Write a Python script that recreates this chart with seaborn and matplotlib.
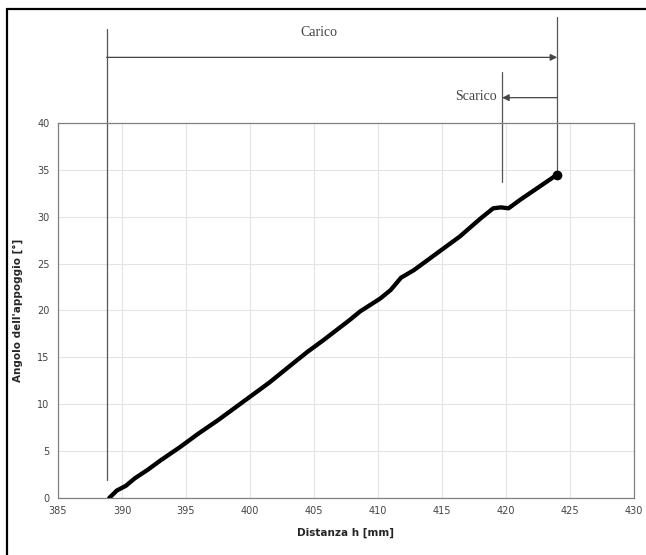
import matplotlib.pyplot as plt
import matplotlib.lines as mlines
import seaborn as sns
import pandas as pd

# Distanza h [mm] vs Angolo dell'appoggio [deg]
distanza = [389.0, 389.6, 390.3, 391.0, 392.0, 393.0, 394.5, 396.0, 397.5, 400.0,
            401.5, 403.4, 404.5, 405.7, 407.8, 408.6, 410.2, 411.0, 411.8, 412.8,
            414.5, 416.4, 418.0, 419.0, 419.6, 420.2, 421.1, 422.5, 424.0]
angolo = [0.0, 0.8, 1.3, 2.1, 3.0, 4.0, 5.4, 6.9, 8.3, 10.8,
          12.3, 14.4, 15.6, 16.8, 19.0, 19.9, 21.3, 22.2, 23.5, 24.3,
          26.0, 27.9, 29.8, 30.9, 31.0, 30.9, 31.8, 33.1, 34.5]

x_ticks = [385, 390, 395, 400, 405, 410, 415, 420, 425, 430]
y_ticks = [0, 5, 10, 15, 20, 25, 30, 35, 40]

# limiti delle fasi
inizio_carico = 388.8
fine_carico = 424.0
inizio_scarico = 419.7

df = pd.DataFrame({"Distanza": distanza, "Angolo": angolo})

sns.set_style("whitegrid", {"grid.color": "#e4e4e4", "axes.edgecolor": "#808080"})

fig = plt.figure(figsize=(6.46, 5.55), dpi=100)
ax = fig.add_axes([0.0898, 0.1027, 0.8916, 0.6757])

# linee verticali e frecce Carico / Scarico
lc = "#555555"
ax.plot([inizio_carico, inizio_carico], [1.9, 50.0], color=lc, lw=0.9, clip_on=False)
ax.plot([fine_carico, fine_carico], [34.1, 51.3], color=lc, lw=0.9, clip_on=False)
ax.plot([inizio_scarico, inizio_scarico], [33.7, 45.4], color=lc, lw=0.9, clip_on=False)

sns.lineplot(x="Distanza", y="Angolo", data=df, ax=ax, color="black",
             linewidth=3.1, solid_capstyle="round", solid_joinstyle="round", zorder=5)
ax.plot(distanza[-1], angolo[-1], "o", color="black", markeredgecolor="black",
        markersize=6, zorder=6)

ax.set_xlim(385, 430)
ax.set_ylim(0, 40)
ax.set_xticks(x_ticks)
ax.set_yticks(y_ticks)
ax.tick_params(labelsize=7, colors="#555555", length=0, pad=6)
for lab in ax.get_xticklabels() + ax.get_yticklabels():
    lab.set_color("#444444")
for s in ax.spines.values():
    s.set_linewidth(0.9)

ax.set_xlabel("Distanza h [mm]", fontsize=7.5, fontweight="bold", labelpad=8)
ax.set_ylabel("Angolo dell'appoggio [°]", fontsize=7.5, fontweight="bold", labelpad=10)

ax.annotate("", xy=(fine_carico, 47.0), xytext=(inizio_carico, 47.0),
            arrowprops=dict(arrowstyle="-|>", color="#444444", lw=0.9,
                            mutation_scale=10, shrinkA=0, shrinkB=0),
            annotation_clip=False)
ax.annotate("", xy=(inizio_scarico, 42.7), xytext=(fine_carico, 42.7),
            arrowprops=dict(arrowstyle="-|>", color="#444444", lw=0.9,
                            mutation_scale=10, shrinkA=0, shrinkB=0),
            annotation_clip=False)

ax.text(405.4, 49.7, "Carico", fontsize=10, family="Liberation Serif",
        color="#444444", ha="center", va="center", clip_on=False)
ax.text(419.3, 42.8, "Scarico", fontsize=10, family="Liberation Serif",
        color="#444444", ha="right", va="center", clip_on=False)

# cornice esterna (solo lati sinistro e superiore visibili)
fig.add_artist(mlines.Line2D([7 / 646, 7 / 646], [0, 1 - 9 / 555], color="black", lw=1.6))
fig.add_artist(mlines.Line2D([7 / 646, 1], [1 - 9 / 555, 1 - 9 / 555], color="black", lw=1.6))

plt.savefig("out.png", dpi=100)
plt.close()
